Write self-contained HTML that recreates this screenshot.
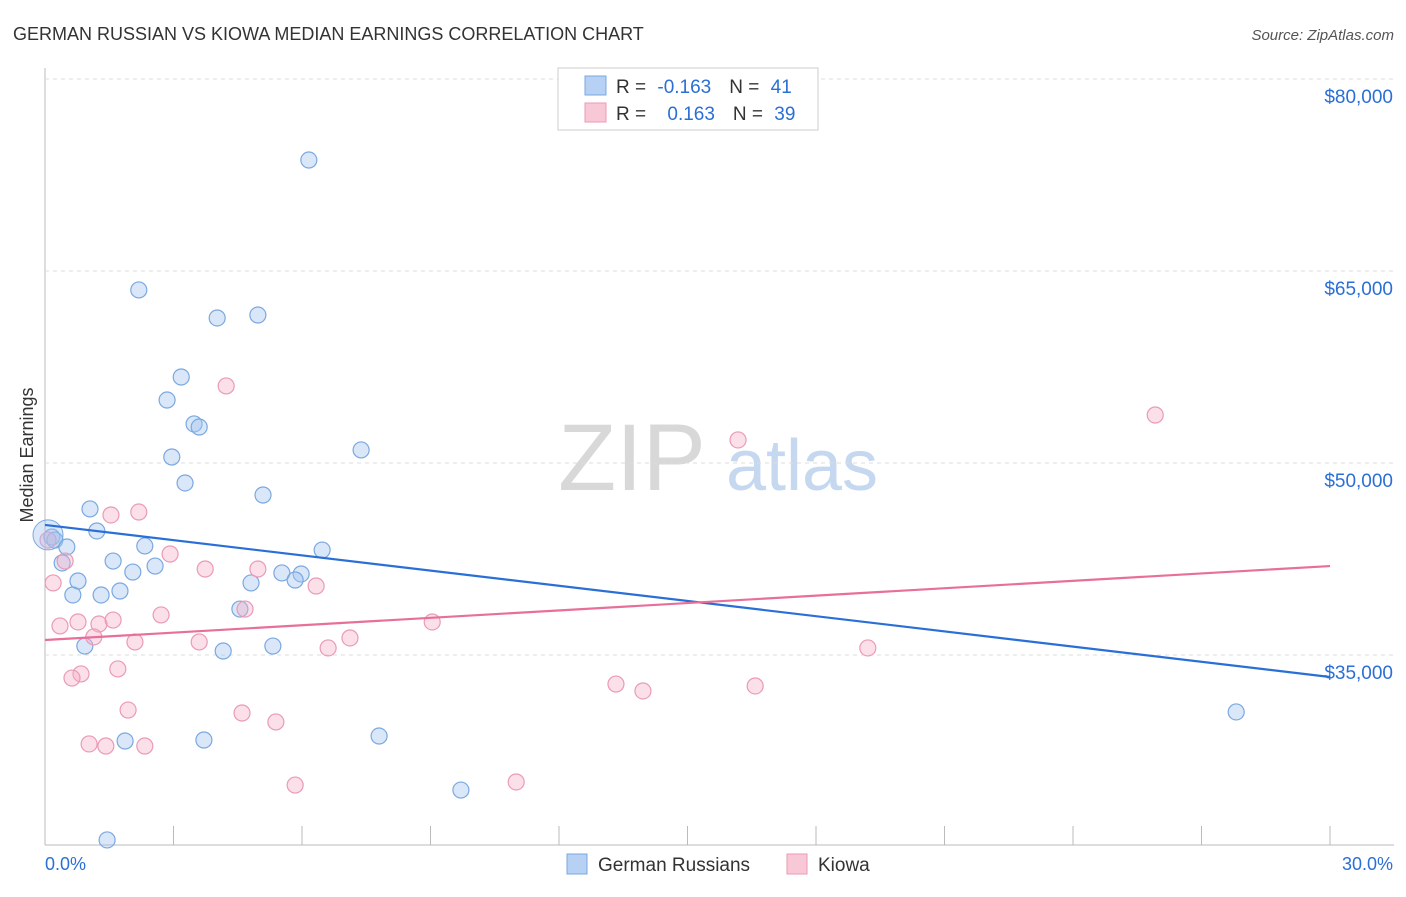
<!DOCTYPE html>
<html><head><meta charset="utf-8"><style>
body{margin:0;background:#fff;font-family:"Liberation Sans",sans-serif}
svg text{font-family:"Liberation Sans",sans-serif}
</style></head><body>
<svg id="c" width="1406" height="892" xmlns="http://www.w3.org/2000/svg">
<text x="13" y="40" font-size="18" fill="#333">GERMAN RUSSIAN VS KIOWA MEDIAN EARNINGS CORRELATION CHART</text>
<text x="1394" y="40" font-size="15" fill="#555" text-anchor="end" font-style="italic">Source: ZipAtlas.com</text>
<text x="33" y="455" font-size="18" fill="#333" text-anchor="middle" transform="rotate(-90 33 455)">Median Earnings</text>
<g>
<text x="632" y="490" font-size="95" fill="#d8d8d8" text-anchor="middle" font-family="Liberation Serif,serif">ZIP</text>
<text x="802" y="490" font-size="72" fill="#c5d8f0" text-anchor="middle">atlas</text>
</g>
<g id="grid"></g><g id="ticks"></g><g id="pts"></g><g id="lines"></g>
<g>
<rect x="558" y="68" width="260" height="62" fill="#fff" stroke="#ccc"/>
<rect x="585" y="76" width="21" height="19" fill="#b7d1f5" stroke="#7aa8e0"/>
<rect x="585" y="103" width="21" height="19" fill="#f9c8d7" stroke="#eb9ab5"/>
<text x="616" y="93" font-size="19" fill="#333">R = <tspan fill="#2a6fd6" dx="6">-0.163</tspan><tspan fill="#333" dx="18">N = </tspan><tspan fill="#2a6fd6" dx="6">41</tspan></text>
<text x="616" y="120" font-size="19" fill="#333">R = <tspan fill="#2a6fd6" dx="16">0.163</tspan><tspan fill="#333" dx="18">N = </tspan><tspan fill="#2a6fd6" dx="6">39</tspan></text>
</g>
<g>
<rect x="567" y="854" width="20" height="20" fill="#b7d1f5" stroke="#7aa8e0"/>
<text x="598" y="871" font-size="19" fill="#333">German Russians</text>
<rect x="787" y="854" width="20" height="20" fill="#f9c8d7" stroke="#eb9ab5"/>
<text x="818" y="871" font-size="19" fill="#333">Kiowa</text>
</g>
<text x="45" y="870" font-size="18" fill="#2a6fd6">0.0%</text>
<text x="1393" y="870" font-size="18" fill="#2a6fd6" text-anchor="end">30.0%</text>
</svg>
<script>
const yTicks=[80000,65000,50000,35000];
const yTickLabels=["$80,000","$65,000","$50,000","$35,000"];
const blueX=[6.16,2.19,4.02,4.97,3.18,2.85,3.48,3.60,2.96,7.38,3.27,5.09,1.05,1.21,0.16,0.23,0.51,2.33,6.47,1.59,0.40,2.57,2.05,5.53,5.98,0.77,4.81,5.84,0.65,1.31,1.75,4.55,0.93,5.32,4.16,1.87,3.71,7.80,9.71,27.81,1.45];
const blueY=[73670,63520,61330,61560,56720,54920,53050,52810,50470,51020,48440,47500,46410,44690,44220,43980,43440,43520,43200,42340,42190,41950,41480,41410,41330,40780,40630,40860,39690,39690,40000,38590,35700,35700,35310,28280,28360,28670,24450,30550,20550];
const pinkX=[4.23,25.92,16.18,1.54,2.19,0.47,2.92,3.74,4.97,6.33,0.19,2.71,4.67,0.35,0.77,1.26,1.59,1.14,2.10,3.60,7.12,9.04,6.61,19.21,1.70,0.84,0.63,13.33,13.96,16.58,1.94,4.60,5.39,1.03,1.42,2.33,5.84,11.00,0.07];
const pinkY=[56020,53750,51800,45940,46170,42340,42890,41720,41720,40390,40630,38130,38590,37270,37580,37420,37730,36410,36020,36020,36330,37580,35550,35550,33910,33520,33200,32730,32190,32580,30700,30470,29770,28050,27890,27890,24840,25080,43980];
const blueTrend=[45160,33280];
const pinkTrend=[36170,41950];
const NS="http://www.w3.org/2000/svg";
const xs=v=>45+v/30*1285;
const ys=v=>79+(80000-v)/1000*12.8;
function mk(t,a,p){const e=document.createElementNS(NS,t);for(const k in a)e.setAttribute(k,a[k]);document.getElementById(p).appendChild(e);return e;}
let e;
e=mk('line',{x1:45,y1:68,x2:45,y2:845,stroke:'#bbb'},'grid');


e=mk('line',{x1:45,y1:845,x2:1394,y2:845,stroke:'#bbb'},'grid');


yTicks.forEach((v,i)=>{
 e=mk('line',{x1:45,y1:ys(v),x2:1394,y2:ys(v),stroke:'#ddd','stroke-dasharray':'4 4'},'grid');
 
 
 e=mk('text',{x:1393,y:ys(v)+24,'font-size':19,fill:'#2a6fd6','text-anchor':'end'},'grid');
 e.textContent=yTickLabels[i];
 
 
});
for(let i=0;i<=10;i++){
 e=mk('line',{x1:xs(i*3),y1:826,x2:xs(i*3),y2:845,stroke:'#bbb'},'ticks');
 
 
}
function pts(X,Y,f,s,n){X.forEach((x,i)=>{
 e=mk('circle',{cx:xs(x),cy:ys(Y[i]),r:8,fill:f,stroke:s,'stroke-width':1.2},'pts');
 
 
});}
pts(blueX,blueY,'rgba(160,196,240,0.4)','#7aa8e0','german-russians-point');
pts(pinkX,pinkY,'rgba(245,175,200,0.4)','#eb9ab5','kiowa-point');
e=mk('circle',{cx:xs(0.07),cy:ys(44380),r:15,fill:'rgba(160,196,240,0.4)',stroke:'#7aa8e0'},'pts');


e=mk('line',{x1:xs(0),y1:ys(blueTrend[0]),x2:xs(30),y2:ys(blueTrend[1]),stroke:'#2a6fd6','stroke-width':2.2},'lines');


e=mk('line',{x1:xs(0),y1:ys(pinkTrend[0]),x2:xs(30),y2:ys(pinkTrend[1]),stroke:'#e76f9a','stroke-width':2.2},'lines');


</script>
</body></html>
